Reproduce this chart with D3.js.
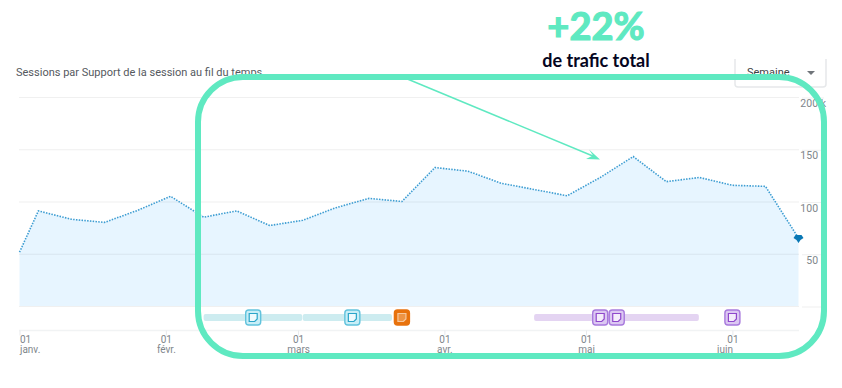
<!DOCTYPE html>
<html>
<head>
<meta charset="utf-8">
<script src="https://cdn.jsdelivr.net/npm/d3@7"></script>
<style>
    html, body { margin: 0; padding: 0; background: #fff; }
    svg { display: block; }
    text { font-family: Roboto, sans-serif; }
</style>
</head>
<body>
<svg class="chart" width="842" height="388"></svg>
<script>
/* Sessions per week, with the note markers and the highlight frame on top */
var weekDates = ['2023-01-01', '2023-01-05', '2023-01-12', '2023-01-19', '2023-01-26', '2023-02-02', '2023-02-09',
    '2023-02-16', '2023-02-23', '2023-03-02', '2023-03-09', '2023-03-16', '2023-03-23', '2023-03-30', '2023-04-06',
    '2023-04-13', '2023-04-20', '2023-04-27', '2023-05-04', '2023-05-11', '2023-05-18', '2023-05-25', '2023-06-01',
    '2023-06-08', '2023-06-15'];
var sessions = [51500, 91000, 83000, 80000, 91500, 105000, 85000, 91000, 77000, 82000, 94000, 103000, 100000,
    132500, 129000, 117500, 111500, 105500, 123000, 143000, 119000, 123000, 115500, 114500, 65000];

var yTicks = [0, 50000, 100000, 150000, 200000];
var yTickLabels = ['', '50 k', '100 k', '150 k', '200 k'];
var monthTicks = ['2023-01-01', '2023-02-01', '2023-03-01', '2023-04-01', '2023-05-01', '2023-06-01'];
var monthLabels = ['janv.', 'févr.', 'mars', 'avr.', 'mai', 'juin'];

var noteBarStarts = ['2023-02-09', '2023-03-02', '2023-04-20'];
var noteBarEnds = ['2023-03-02', '2023-03-21', '2023-05-25'];
var noteBarKinds = ['blue', 'blue', 'purple'];
var noteDates = ['2023-02-19 12', '2023-03-12 12', '2023-03-23 00', '2023-05-04 00', '2023-05-07 12', '2023-06-01 00'];
var noteKinds = ['blue', 'blue', 'orange', 'purple', 'purple', 'purple'];

var parseTime = d3.timeParse('%Y-%m-%d');
var parseNoteTime = d3.timeParse('%Y-%m-%d %H');
var green = '#5fe9c1';

var noteColors = {
    blue: { bar: '#cdecf0', bg: '#c8eef7', border: '#62c3dd', ink: '#2aa5c9', page: '#eefafd' },
    purple: { bar: '#e4d4f2', bg: '#dcc8f2', border: '#a87add', ink: '#8f47cc', page: '#f4ecfb' },
    orange: { bar: '#f6d2ae', bg: '#e8720c', border: '#e8720c', ink: '#f7c79b', page: '#ee9444' }
};

var svg = d3.select('.chart');

var x = d3.scaleTime()
    .domain([parseTime('2023-01-01'), parseTime('2023-06-15')])
    .range([19.5, 798.5]);

var y = d3.scaleLinear()
    .domain([0, 200000])
    .range([306, 97]);

var points = weekDates.map(function(d, i) {
    return { date: parseTime(d), value: sessions[i] };
});

// Title and period selector
svg.append('text')
    .attr('x', 16)
    .attr('y', 76)
    .attr('font-size', 11)
    .attr('fill', '#55595e')
    .text('Sessions par Support de la session au fil du temps');

svg.append('path')
    .attr('d', 'M735,59V84q0,3 3,3H823q3,0 3,-3V59')
    .attr('fill', '#fff')
    .attr('stroke', '#e6e8ea')
    .attr('stroke-width', 1.5);

svg.append('text')
    .attr('x', 747)
    .attr('y', 76)
    .attr('font-size', 11)
    .attr('fill', '#3c4043')
    .text('Semaine');

svg.append('path')
    .attr('d', 'M807,71H815L811,75Z')
    .attr('fill', '#70757a');

// Area and dotted line
var area = d3.area()
    .x(function(d) { return x(d.date); })
    .y0(y(0))
    .y1(function(d) { return y(d.value); });

var valueline = d3.line()
    .x(function(d) { return x(d.date); })
    .y(function(d) { return y(d.value); });

svg.append('path')
    .datum(points)
    .attr('d', area)
    .attr('fill', '#e7f5ff');

// Grid lines sit over the area
var grid = svg.append('g').attr('class', 'grid');
grid.selectAll('line')
    .data(yTicks)
    .enter()
    .append('line')
    .attr('x1', 19)
    .attr('x2', 799)
    .attr('y1', function(d) { return y(d) + 0.5; })
    .attr('y2', function(d) { return y(d) + 0.5; })
    .attr('stroke', '#3c4043')
    .attr('stroke-opacity', 0.08);

svg.append('path')
    .datum(points)
    .attr('d', valueline)
    .attr('fill', 'none')
    .attr('stroke', '#3d9dd2')
    .attr('stroke-width', 1.6)
    .attr('stroke-dasharray', '1.5 1.3');

// End point marker
var last = points[points.length - 1];
svg.append('path')
    .attr('transform', 'translate(' + x(last.date) + ',' + y(last.value) + ')')
    .attr('d', 'M-5,0L-3,-3H3L5,0L2,2L0,5L-2,2Z')
    .attr('fill', '#0a78b5');

// Right axis
var yAxis = d3.axisRight(y)
    .tickValues(yTicks)
    .tickSize(22)
    .tickPadding(0)
    .tickFormat(function(d, i) { return yTickLabels[i]; });

var yAxisG = svg.append('g')
    .attr('transform', 'translate(802,0.5)')
    .call(yAxis);
yAxisG.select('.domain').remove();
yAxisG.selectAll('.tick line').attr('stroke', '#3c4043').attr('stroke-opacity', 0.08);
yAxisG.selectAll('.tick text')
    .attr('x', 24)
    .attr('dy', 9)
    .attr('text-anchor', 'end')
    .attr('font-size', 10.5)
    .attr('font-family', 'Roboto, sans-serif')
    .attr('fill', '#80868b');

// Note bars and icons
svg.append('g')
    .selectAll('rect')
    .data(noteBarStarts)
    .enter()
    .append('rect')
    .attr('x', function(d) { return x(parseTime(d)); })
    .attr('y', 314)
    .attr('width', function(d, i) { return x(parseTime(noteBarEnds[i])) - x(parseTime(d)) - 0.5; })
    .attr('height', 7)
    .attr('rx', 2)
    .attr('fill', function(d, i) { return noteColors[noteBarKinds[i]].bar; });

var icons = svg.append('g')
    .selectAll('g')
    .data(noteDates)
    .enter()
    .append('g')
    .attr('transform', function(d) { return 'translate(' + x(parseNoteTime(d)) + ',317.5)'; });

icons.append('rect')
    .attr('x', -7.5)
    .attr('y', -7.5)
    .attr('width', 15)
    .attr('height', 15)
    .attr('rx', 3)
    .attr('fill', function(d, i) { return noteColors[noteKinds[i]].bg; })
    .attr('stroke', function(d, i) { return noteColors[noteKinds[i]].border; })
    .attr('stroke-width', 1.4);

icons.append('path')
    .attr('d', 'M-4,-4H4V1.5L1.5,4H-4Z')
    .attr('fill', function(d, i) { return noteColors[noteKinds[i]].page; })
    .attr('stroke', function(d, i) { return noteColors[noteKinds[i]].ink; })
    .attr('stroke-width', 1.2);

// Bottom axis, day and month on two lines
var xAxis = d3.axisBottom(x)
    .tickValues(monthTicks.map(parseTime))
    .tickSize(5)
    .tickFormat(function() { return ''; });

var xAxisG = svg.append('g')
    .attr('transform', 'translate(0,330.5)')
    .call(xAxis);
xAxisG.select('.domain')
    .attr('d', 'M19,0H799')
    .attr('stroke', '#f1f3f4')
    .attr('stroke-width', 1.5);
xAxisG.selectAll('.tick line').attr('stroke', '#e8eaed');
xAxisG.selectAll('.tick text').remove();

var tickLabels = xAxisG.selectAll('.tick')
    .append('g')
    .attr('font-size', 10)
    .attr('fill', '#80868b');

tickLabels.append('text')
    .attr('y', 12)
    .attr('text-anchor', function(d, i) { return i == 0 ? 'start' : 'middle'; })
    .text('01');

tickLabels.append('text')
    .attr('y', 22)
    .attr('text-anchor', function(d, i) {
        if (i == 0) return 'start';
        return i == monthLabels.length - 1 ? 'end' : 'middle';
    })
    .text(function(d, i) { return monthLabels[i]; });

// Highlight frame, arrow and callout
svg.append('rect')
    .attr('x', 198)
    .attr('y', 77)
    .attr('width', 626)
    .attr('height', 279)
    .attr('rx', 45)
    .attr('fill', 'none')
    .attr('stroke', green)
    .attr('stroke-width', 6);

svg.append('line')
    .attr('x1', 405)
    .attr('y1', 78)
    .attr('x2', 594)
    .attr('y2', 156.5)
    .attr('stroke', green)
    .attr('stroke-width', 1.5);

svg.append('path')
    .attr('d', 'M600,159.5L586,159L593,155.5L589,149.5Z')
    .attr('fill', green);

svg.append('text')
    .attr('x', 596)
    .attr('y', 40)
    .attr('text-anchor', 'middle')
    .attr('font-size', 38)
    .attr('font-weight', 700)
    .style('font-family', 'Lato, sans-serif')
    .attr('fill', green)
    .attr('stroke', green)
    .attr('stroke-width', 1.2)
    .text('+22%');

svg.append('text')
    .attr('x', 596)
    .attr('y', 67)
    .attr('text-anchor', 'middle')
    .attr('font-size', 18)
    .attr('font-weight', 700)
    .style('font-family', 'Lato, sans-serif')
    .attr('fill', '#05051e')
    .text('de trafic total');
</script>
</body>
</html>
